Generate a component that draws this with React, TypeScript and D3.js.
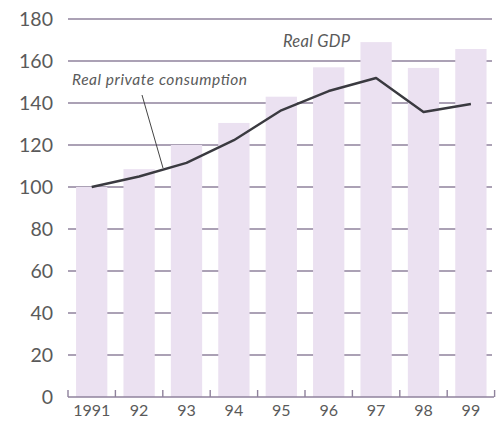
import React from "react";
import * as d3 from "d3";

const years = ["1991", "92", "93", "94", "95", "96", "97", "98", "99"];
const gdp = [100, 108.5, 120, 130.5, 143, 157, 169, 156.7, 165.7];
const consumption = [100, 105, 111.5, 122.3, 136.5, 145.7, 151.9, 135.7, 139.5];
const yTicks = [0, 20, 40, 60, 80, 100, 120, 140, 160, 180];

const W = 497;
const H = 423;
const FONT = "Lato, 'Open Sans', sans-serif";
const GRID = "#8f829c";
const TEXT = "#5a5a5a";

export default function App() {
  const x = d3.scaleBand<string>().domain(years).range([68, 494.6]).paddingInner(0.34).paddingOuter(0.17);
  const y = d3.scaleLinear().domain([0, 180]).range([397, 19]);
  const line = d3
    .line<number>()
    .x((_, i) => (x(years[i]) as number) + x.bandwidth() / 2)
    .y((d) => y(d));
  const step = x.step();
  const bounds = years.map((_, i) => 68 + i * step).concat([68 + years.length * step]);

  return (
    <svg width={W} height={H} style={{ position: "absolute", left: 0, top: 0, background: "#fff" }}>
      {yTicks.filter((t) => t > 0).map((t) => (
        <line key={t} x1={68} x2={492} y1={y(t)} y2={y(t)} stroke={GRID} strokeWidth={1.6} />
      ))}
      {years.map((yr, i) => (
        <rect key={yr} x={x(yr)} y={y(gdp[i])} width={x.bandwidth()} height={y(0) - y(gdp[i])} fill="#ebe1f1" />
      ))}
      <line x1={68} x2={494} y1={y(0)} y2={y(0)} stroke={GRID} strokeWidth={1.4} />
      {bounds.map((bx, i) => (
        <line key={i} x1={bx} x2={bx} y1={y(0)} y2={y(0) - 7} stroke={GRID} strokeWidth={1.4} />
      ))}
      {yTicks.map((t) => (
        <text key={t} x={53} y={y(t)} dy="0.36em" textAnchor="end" fontFamily={FONT} fontSize={19.5} fill={TEXT}>
          {t}
        </text>
      ))}
      {years.map((yr) => (
        <text key={yr} x={(x(yr) as number) + x.bandwidth() / 2} y={416} textAnchor="middle" fontFamily={FONT} fontSize={16} fill={TEXT}>
          {yr}
        </text>
      ))}
      <path d={line(consumption) || ""} fill="none" stroke="#3a3a40" strokeWidth={2.4} strokeLinejoin="round" />
      <line x1={142} y1={95} x2={163} y2={168} stroke="#444" strokeWidth={1} />
      <text x={72} y={85} fontFamily={FONT} fontStyle="italic" fontSize={15.5} fill={TEXT} textLength={175}>
        Real private consumption
      </text>
      <text x={283} y={47} fontFamily={FONT} fontStyle="italic" fontSize={16.5} fill={TEXT} textLength={67}>
        Real GDP
      </text>
    </svg>
  );
}
